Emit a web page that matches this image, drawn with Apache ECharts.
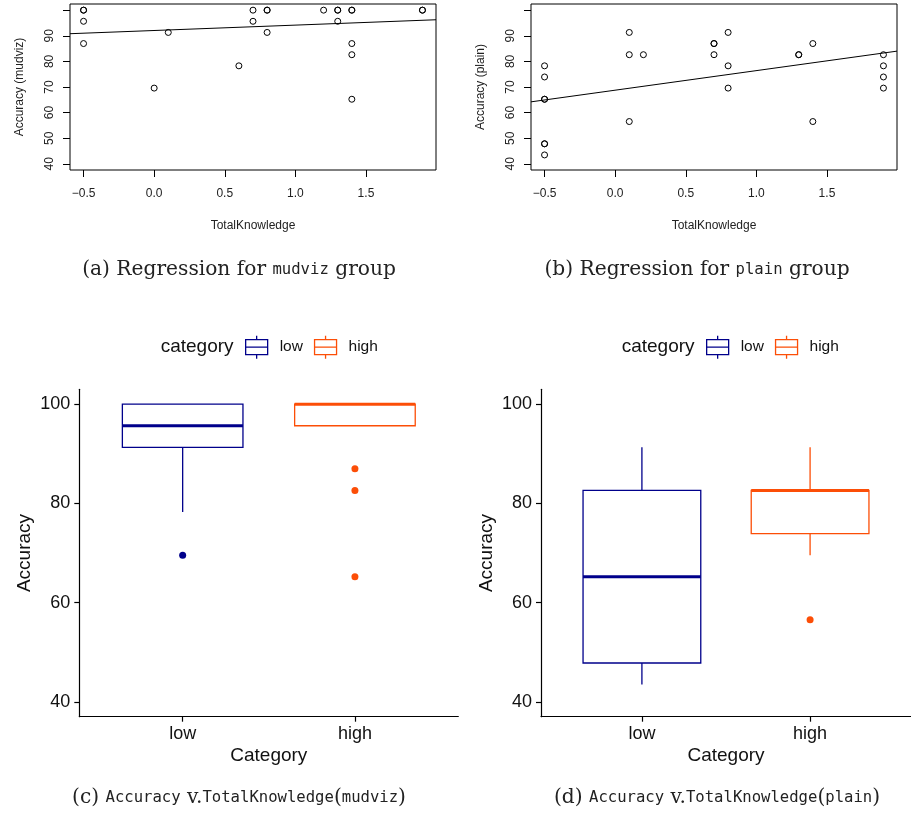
<!DOCTYPE html>
<html>
<head>
<meta charset="utf-8">
<script src="https://cdn.jsdelivr.net/npm/echarts@6/dist/echarts.min.js"></script>
<style>html,body{margin:0;padding:0;background:#fff}#c{width:911px;height:813px}</style>
</head>
<body>
<div id="c"></div>
<script>
// ---------- data ----------
const mudvizX = [-0.5,-0.5,-0.5,-0.5, 0.0, 0.1, 0.6, 0.7,0.7, 0.8,0.8,0.8, 1.2, 1.3,1.3,1.3, 1.4,1.4,1.4,1.4,1.4, 1.9,1.9];
const mudvizY = [100,100,95.65,86.96, 69.57, 91.30, 78.26, 100,95.65, 100,100,91.30, 100, 100,100,95.65, 100,100,86.96,82.61,65.22, 100,100];
const plainX = [-0.5,-0.5,-0.5,-0.5,-0.5,-0.5,-0.5, 0.1,0.1,0.1, 0.2, 0.7,0.7,0.7, 0.8,0.8,0.8, 1.3,1.3, 1.4,1.4, 1.9,1.9,1.9,1.9];
const plainY = [78.26,73.91,65.22,65.22,47.83,47.83,43.48, 91.30,82.61,56.52, 82.61, 86.96,86.96,82.61, 91.30,78.26,69.57, 82.61,82.61, 86.96,56.52, 82.61,78.26,73.91,69.57];
// regression line endpoints (x, fitted y)
const fitMudvizX = [-0.596, 1.996];
const fitMudvizY = [90.8, 96.25];
const fitPlainX = [-0.596, 1.996];
const fitPlainY = [64.2, 84.0];

const categories = ['low', 'high'];
// box stats: [min whisker, Q1, median, Q3, max whisker]
const mudvizLowBox = [78.26, 91.30, 95.65, 100, 100];
const mudvizHighBox = [95.65, 95.65, 100, 100, 100];
const mudvizLowOut = [69.57];
const mudvizHighOut = [86.96, 82.61, 65.22];
const plainLowBox = [43.48, 47.83, 65.22, 82.61, 91.30];
const plainHighBox = [69.57, 73.91, 82.61, 82.61, 91.30];
const plainLowOut = [];
const plainHighOut = [56.52];

const scatterXTicks = [-0.5, 0, 0.5, 1.0, 1.5];
const scatterYTicks = [40, 50, 60, 70, 80, 90, 100];
const scatterYLabels = [40, 50, 60, 70, 80, 90];
const boxYTicks = [40, 60, 80, 100];

// ---------- style ----------
const LOW = '#00008B', HIGH = '#FC4E07';
const SANS = 'Liberation Sans';
const zip = (xs, ys) => xs.map((x, i) => [x, ys[i]]);
const fmtNum = v => (v < 0 ? '\u2212' + Math.abs(v).toFixed(1) : v.toFixed(1));

function scatterAxes(gi, yName) {
  return {
    x: {
      type: 'value', gridIndex: gi, min: -0.596, max: 1.996,
      axisLine: {show: false, onZero: false}, splitLine: {show: false},
      axisTick: {show: true, customValues: scatterXTicks, length: 7, lineStyle: {color: '#000', width: 1}},
      axisLabel: {customValues: scatterXTicks, formatter: fmtNum, fontFamily: SANS, fontSize: 12, color: '#222', margin: 18},
      name: 'TotalKnowledge', nameLocation: 'middle', nameGap: 50,
      nameTextStyle: {fontFamily: SANS, fontSize: 12, color: '#222'}
    },
    y: {
      type: 'value', gridIndex: gi, min: 37.6, max: 102.4,
      axisLine: {show: false, onZero: false}, splitLine: {show: false},
      axisTick: {show: true, customValues: scatterYTicks, length: 7, lineStyle: {color: '#000', width: 1}},
      axisLabel: {customValues: scatterYLabels, rotate: 90, fontFamily: SANS, fontSize: 12, color: '#222', margin: 14},
      name: yName, nameLocation: 'middle', nameGap: 44,
      nameTextStyle: {fontFamily: SANS, fontSize: 12, color: '#222'}
    }
  };
}

function boxAxes(gi) {
  return {
    x: {
      type: 'value', gridIndex: gi, min: 0.4, max: 2.6,
      axisLine: {show: true, onZero: false, lineStyle: {color: '#000', width: 1.2}},
      splitLine: {show: false},
      axisTick: {show: true, customValues: [1, 2], length: 5, lineStyle: {color: '#000', width: 1.2}},
      axisLabel: {customValues: [1, 2], formatter: v => categories[Math.round(v) - 1], fontFamily: SANS, fontSize: 18, color: '#111', margin: 8},
      name: 'Category', nameLocation: 'middle', nameGap: 30,
      nameTextStyle: {fontFamily: SANS, fontSize: 19, color: '#111'}
    },
    y: {
      type: 'value', gridIndex: gi, min: 37, max: 103,
      axisLine: {show: true, onZero: false, lineStyle: {color: '#000', width: 1.2}},
      splitLine: {show: false},
      axisTick: {show: true, customValues: boxYTicks, length: 5, lineStyle: {color: '#000', width: 1.2}},
      axisLabel: {customValues: boxYTicks, fontFamily: SANS, fontSize: 18, color: '#111', margin: 9},
      name: 'Accuracy', nameLocation: 'middle', nameGap: 45,
      nameTextStyle: {fontFamily: SANS, fontSize: 19, color: '#111'}
    }
  };
}

function renderBox(params, api) {
  const x = api.value(0);
  const half = 0.35;
  const q1 = api.coord([x - half, api.value(2)]);
  const q3 = api.coord([x + half, api.value(4)]);
  const med = api.coord([x, api.value(3)]);
  const wl = api.coord([x, api.value(1)]);
  const wh = api.coord([x, api.value(5)]);
  const color = api.visual('color');
  const thin = {stroke: color, lineWidth: 1.3, fill: null};
  return {
    type: 'group',
    children: [
      {type: 'line', shape: {x1: wl[0], y1: wl[1], x2: wl[0], y2: q1[1]}, style: thin},
      {type: 'line', shape: {x1: wh[0], y1: q3[1], x2: wh[0], y2: wh[1]}, style: thin},
      {type: 'rect', shape: {x: q1[0], y: q3[1], width: q3[0] - q1[0], height: q1[1] - q3[1]}, style: {stroke: color, lineWidth: 1.3, fill: '#fff'}},
      {type: 'line', shape: {x1: q1[0], y1: med[1], x2: q3[0], y2: med[1]}, style: {stroke: color, lineWidth: 3}}
    ]
  };
}

function boxSeries(name, gi, stats, outs, color) {
  return [
    {name: name, type: 'custom', xAxisIndex: gi, yAxisIndex: gi, renderItem: renderBox,
     itemStyle: {color: color}, encode: {x: 0, y: [1, 2, 3, 4, 5]},
     data: [[categories.indexOf(name) + 1].concat(stats)], silent: true, z: 2},
    {name: name, type: 'scatter', xAxisIndex: gi, yAxisIndex: gi, symbol: 'circle', symbolSize: 7,
     itemStyle: {color: color, opacity: 1}, data: outs.map(v => [categories.indexOf(name) + 1, v]), silent: true, z: 3}
  ];
}

const a = scatterAxes(0, 'Accuracy (mudviz)');
const b = scatterAxes(1, 'Accuracy (plain)');
const c = boxAxes(2);
const d = boxAxes(3);

const ICON = 'path://M0,4L22,4L22,19L0,19Z M0,11.5L22,11.5 M11,0L11,4 M11,19L11,23';
function legend(left) {
  return {
    left: left, top: 335, orient: 'horizontal', itemWidth: 22, itemHeight: 23, itemGap: 11,
    selectedMode: false, padding: 0,
    textStyle: {fontFamily: SANS, fontSize: 15.5, color: '#111', padding: [0, 0, 0, 7]},
    data: [
      {name: 'low', icon: ICON, itemStyle: {color: 'rgba(0,0,0,0)', borderColor: LOW, borderWidth: 1.3}},
      {name: 'high', icon: ICON, itemStyle: {color: 'rgba(0,0,0,0)', borderColor: HIGH, borderWidth: 1.3}}
    ]
  };
}

const SERIF = 'DejaVu Serif', MONO = 'DejaVu Sans Mono';
const rich = {
  s: {fontFamily: SERIF, fontSize: 20.2, color: '#222'},
  m: {fontFamily: MONO, fontSize: 15.6, color: '#222'}
};
function caption(text, left, top) {
  return {text: text, left: left, top: top, textAlign: 'center', padding: 0,
          textStyle: {rich: rich, fontWeight: 'normal'}};
}

const option = {
  backgroundColor: '#fff',
  animation: false,
  title: [
    caption('{s|(a) Regression for }{m|mudviz}{s| group}', 239, 260),
    caption('{s|(b) Regression for }{m|plain}{s| group}', 697, 260),
    caption('{s|(c) }{m|Accuracy}{s| v.}{m|TotalKnowledge}{s|(}{m|mudviz}{s|)}', 239, 788),
    caption('{s|(d) }{m|Accuracy}{s| v.}{m|TotalKnowledge}{s|(}{m|plain}{s|)}', 717, 788),
    {text: 'category', left: 160.7, top: 337, padding: 0, textStyle: {fontFamily: SANS, fontSize: 19, fontWeight: 'normal', color: '#111'}},
    {text: 'category', left: 621.7, top: 337, padding: 0, textStyle: {fontFamily: SANS, fontSize: 19, fontWeight: 'normal', color: '#111'}}
  ],
  legend: [legend(245), legend(706)],
  grid: [
    {left: 70, top: 4, width: 366, height: 166, show: true, borderColor: '#000', borderWidth: 1, backgroundColor: 'transparent'},
    {left: 531, top: 4, width: 366, height: 166, show: true, borderColor: '#000', borderWidth: 1, backgroundColor: 'transparent'},
    {left: 79.3, top: 389.3, width: 379, height: 327.4},
    {left: 541, top: 389.3, width: 378, height: 327.4}
  ],
  xAxis: [a.x, b.x, c.x, d.x],
  yAxis: [a.y, b.y, c.y, d.y],
  series: [
    {type: 'scatter', xAxisIndex: 0, yAxisIndex: 0, symbol: 'circle', symbolSize: 6, silent: true,
     itemStyle: {color: 'rgba(0,0,0,0)', borderColor: '#000', borderWidth: 1, opacity: 1}, data: zip(mudvizX, mudvizY)},
    {type: 'line', xAxisIndex: 0, yAxisIndex: 0, symbol: 'none', silent: true,
     lineStyle: {color: '#000', width: 1}, data: zip(fitMudvizX, fitMudvizY)},
    {type: 'scatter', xAxisIndex: 1, yAxisIndex: 1, symbol: 'circle', symbolSize: 6, silent: true,
     itemStyle: {color: 'rgba(0,0,0,0)', borderColor: '#000', borderWidth: 1, opacity: 1}, data: zip(plainX, plainY)},
    {type: 'line', xAxisIndex: 1, yAxisIndex: 1, symbol: 'none', silent: true,
     lineStyle: {color: '#000', width: 1}, data: zip(fitPlainX, fitPlainY)}
  ].concat(
    boxSeries('low', 2, mudvizLowBox, mudvizLowOut, LOW),
    boxSeries('high', 2, mudvizHighBox, mudvizHighOut, HIGH),
    boxSeries('low', 3, plainLowBox, plainLowOut, LOW),
    boxSeries('high', 3, plainHighBox, plainHighOut, HIGH)
  )
};

const chart = echarts.init(document.getElementById('c'), null, {renderer: 'canvas'});
chart.setOption(option);
</script>
</body>
</html>
